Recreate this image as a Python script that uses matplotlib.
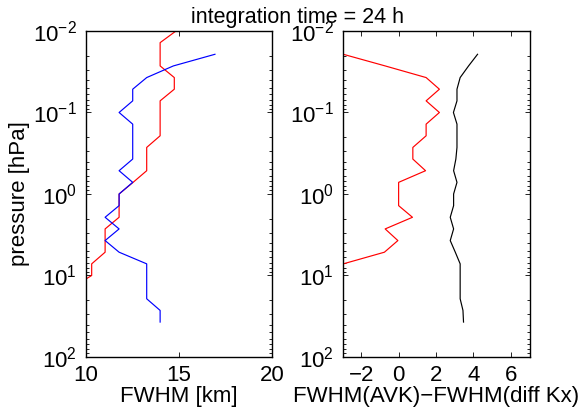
import matplotlib
matplotlib.use('Agg')
import matplotlib.pyplot as plt
from matplotlib.ticker import LogLocator, FixedLocator, NullFormatter

plt.rcParams['font.family'] = ['Liberation Sans', 'DejaVu Sans']
plt.rcParams['mathtext.fontset'] = 'custom'
plt.rcParams['mathtext.rm'] = 'Liberation Sans'
plt.rcParams['mathtext.it'] = 'Liberation Sans:italic'
plt.rcParams['font.size'] = 16

# pressure levels [hPa]
p_all = [0.01, 0.0139, 0.01931, 0.02683, 0.03728, 0.05179, 0.07197, 0.1,
         0.139, 0.1931, 0.2683, 0.3728, 0.5179, 0.7197, 1.0, 1.39, 1.931,
         2.683, 3.728, 5.179, 7.197, 10.0, 13.9, 19.31, 26.83, 37.28]

# left panel: FWHM [km]
p_red = p_all[0:23]
fwhm_red = [14.85, 14.0, 14.0, 14.0, 14.76, 14.76, 14.0, 14.0, 14.0, 14.0,
            13.28, 13.28, 13.28, 12.55, 11.80, 11.80, 11.80, 11.05, 11.05,
            11.05, 10.33, 10.33, 9.30]
p_blue = p_all[2:26]
fwhm_blue = [16.94, 14.71, 13.28, 12.53, 12.53, 11.80, 12.53, 12.53, 12.53,
             12.53, 11.80, 12.53, 11.80, 11.80, 11.05, 11.80, 11.05, 11.80,
             13.28, 13.28, 13.28, 13.28, 14.0, 14.0]

# right panel: FWHM(AVK) - FWHM(diff Kx)
p_diff_red = p_all[2:23]
diff_red = [-2.96, -0.72, 1.47, 2.18, 1.47, 2.18, 1.47, 1.47, 0.76, 0.76,
            1.44, 0.0, 0.0, 0.0, 0.74, -0.72, -0.04, -0.76, -2.96, -2.96, -3.98]
p_diff_black = p_all[2:26]
diff_black = [4.22, 3.74, 3.29, 3.12, 3.12, 2.93, 3.12, 3.12, 3.12, 3.06,
              2.94, 3.12, 2.94, 2.94, 2.76, 2.94, 2.76, 3.03, 3.29, 3.29,
              3.29, 3.29, 3.44, 3.47]

fig = plt.figure(figsize=(5.85, 4.11), dpi=100)
ax1 = fig.add_axes([0.1462, 0.1314, 0.3188, 0.7932])
ax2 = fig.add_axes([0.5855, 0.1314, 0.3197, 0.7932])

ax1.plot(fwhm_red, p_red, color='r', lw=0.85)
ax1.plot(fwhm_blue, p_blue, color='b', lw=0.85)
ax2.plot(diff_red, p_diff_red, color='r', lw=0.85)
ax2.plot(diff_black, p_diff_black, color='k', lw=0.85)

for ax in (ax1, ax2):
    ax.set_yscale('log')
    ax.set_ylim(1e2, 1e-2)
    ax.yaxis.set_major_locator(LogLocator(base=10, numticks=10))
    ax.yaxis.set_minor_locator(LogLocator(base=10, subs=range(2, 10), numticks=20))
    ax.yaxis.set_minor_formatter(NullFormatter())
    ax.tick_params(which='both', direction='in', top=True, right=True, width=0.6)
    ax.tick_params(which='major', length=3.5, pad=6)
    ax.tick_params(which='minor', length=2)
    for s in ax.spines.values():
        s.set_linewidth(1.0)

ax1.set_xlim(10, 20)
ax1.xaxis.set_major_locator(FixedLocator([10, 15, 20]))
ax1.set_xlabel('FWHM [km]', labelpad=0)
ax1.set_ylabel('pressure [hPa]', labelpad=2)

ax2.set_xlim(-3, 7)
ax2.xaxis.set_major_locator(FixedLocator([-2, 0, 2, 4, 6]))
ax2.set_xlabel('FWHM(AVK)\u2212FWHM(diff Kx)', labelpad=0)

fig.text(0.508, 0.958, 'integration time = 24 h', ha='center', va='center', fontsize=15.5)

fig.savefig('out.png', dpi=100)
